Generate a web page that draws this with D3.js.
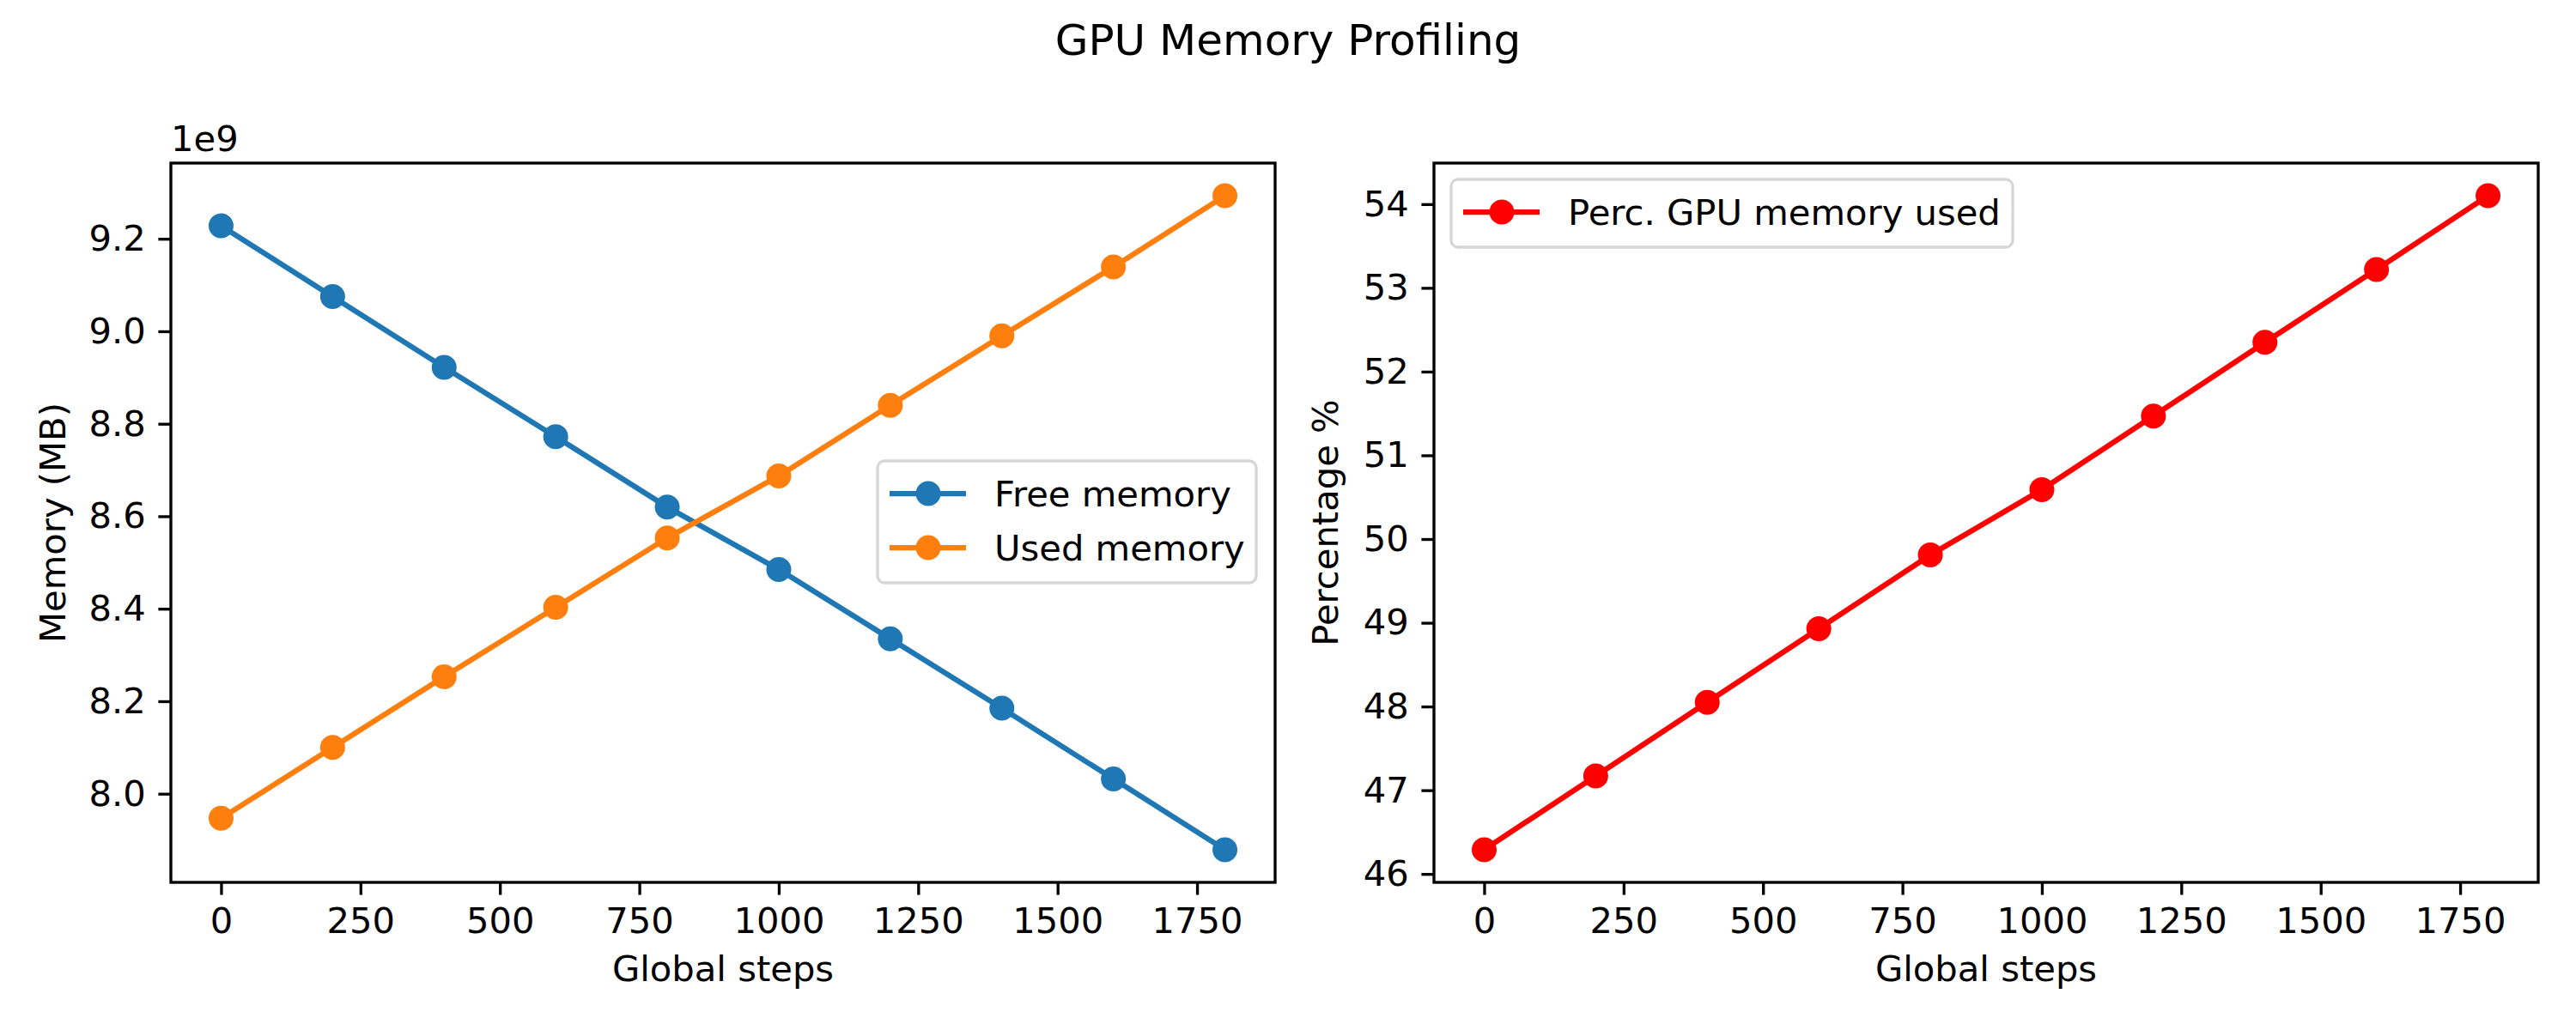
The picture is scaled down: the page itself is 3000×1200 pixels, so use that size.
<!DOCTYPE html>
<html>
<head>
<meta charset="utf-8">
<script src="https://cdn.jsdelivr.net/npm/d3@7"></script>
<style>
  body { margin: 0; background: #fff; }
  text { font-family: "DejaVu Sans", sans-serif; }
</style>
</head>
<body>
<script>
var steps = [ 0, 200, 400, 600, 800, 1000, 1200, 1400, 1600, 1800 ];
var freeMemory = [ 9.228e9, 9.075e9, 8.922e9, 8.772e9, 8.620e9, 8.485e9, 8.335e9, 8.185e9, 8.032e9, 7.879e9 ];
var usedMemory = [ 7.947e9, 8.100e9, 8.253e9, 8.403e9, 8.553e9, 8.687e9, 8.840e9, 8.990e9, 9.139e9, 9.293e9 ];
var percUsed = [ 46.29, 47.17, 48.05, 48.93, 49.81, 50.59, 51.47, 52.35, 53.22, 54.10 ];
var xTicks = [ 0, 250, 500, 750, 1000, 1250, 1500, 1750 ];
var memTicks = [ 8.0e9, 8.2e9, 8.4e9, 8.6e9, 8.8e9, 9.0e9, 9.2e9 ];
var pctTicks = [ 46, 47, 48, 49, 50, 51, 52, 53, 54 ];

var fontPx = 41.7;
var tick = 14.6;
var lw = 6.25;
var markR = 14.5;

var svg = d3.select( "body" ).append( "svg" )
  .attr( "width", 3000 )
  .attr( "height", 1200 );

svg.append( "rect" ).attr( "width", 3000 ).attr( "height", 1200 ).attr( "fill", "#fff" );

// suptitle
svg.append( "text" )
  .attr( "x", 1500 )
  .attr( "y", 64 )
  .attr( "text-anchor", "middle" )
  .attr( "font-size", 50 )
  .text( "GPU Memory Profiling" );

// pad the data range by 5% like matplotlib does
function padded( lo, hi ) {
  var r = hi - lo;
  return [ lo - 0.05 * r, hi + 0.05 * r ];
}

function drawPanel( opt ) {
  var g = svg.append( "g" );
  var x = d3.scaleLinear().domain( padded( 0, 1800 ) ).range( [ opt.x0, opt.x1 ] );
  var y = d3.scaleLinear().domain( padded( opt.lo, opt.hi ) ).range( [ opt.y1, opt.y0 ] );

  var xa = g.append( "g" )
    .attr( "transform", "translate(0," + opt.y1 + ")" )
    .call( d3.axisBottom( x ).tickValues( xTicks ).tickSize( tick ).tickPadding( tick ).tickFormat( d3.format( "d" ) ) );
  var ya = g.append( "g" )
    .attr( "transform", "translate(" + opt.x0 + ",0)" )
    .call( d3.axisLeft( y ).tickValues( opt.ticks ).tickSize( tick ).tickPadding( tick ).tickFormat( opt.fmt ) );
  [ xa, ya ].forEach( function ( a ) {
    a.select( ".domain" ).remove();
    a.selectAll( "line" ).attr( "stroke", "#000" ).attr( "stroke-width", 3.33 );
    a.selectAll( "text" ).attr( "font-size", fontPx ).attr( "fill", "#000" ).style( "font-family", "DejaVu Sans" );
  } );

  // series
  opt.series.forEach( function ( s ) {
    var line = d3.line()
      .x( function ( d, i ) { return x( steps[ i ] ); } )
      .y( function ( d ) { return y( d ); } );
    g.append( "path" )
      .datum( s.values )
      .attr( "d", line )
      .attr( "fill", "none" )
      .attr( "stroke", s.color )
      .attr( "stroke-width", lw )
      .attr( "stroke-linejoin", "round" );
    g.selectAll( null )
      .data( s.values )
      .enter().append( "circle" )
      .attr( "cx", function ( d, i ) { return x( steps[ i ] ); } )
      .attr( "cy", function ( d ) { return y( d ); } )
      .attr( "r", markR )
      .attr( "fill", s.color );
  } );

  // frame
  g.append( "rect" )
    .attr( "x", opt.x0 )
    .attr( "y", opt.y0 )
    .attr( "width", opt.x1 - opt.x0 )
    .attr( "height", opt.y1 - opt.y0 )
    .attr( "fill", "none" )
    .attr( "stroke", "#000" )
    .attr( "stroke-width", 3.33 );

  // axis labels
  g.append( "text" )
    .attr( "x", ( opt.x0 + opt.x1 ) / 2 )
    .attr( "y", 1143 )
    .attr( "text-anchor", "middle" )
    .attr( "font-size", fontPx )
    .text( "Global steps" );
  g.append( "text" )
    .attr( "transform", "translate(" + opt.labelX + "," + ( opt.y0 + opt.y1 ) / 2 + ") rotate(-90)" )
    .attr( "text-anchor", "middle" )
    .attr( "font-size", fontPx )
    .text( opt.ylabel );

  // legend
  var lg = g.append( "g" ).attr( "transform", "translate(" + opt.legend.x + "," + opt.legend.y + ")" );
  var rowH = 63;
  lg.append( "rect" )
    .attr( "x", 0 )
    .attr( "y", 0 )
    .attr( "width", opt.legend.w )
    .attr( "height", 16 + rowH * opt.series.length )
    .attr( "rx", 8 )
    .attr( "fill", "#fff" )
    .attr( "fill-opacity", 0.8 )
    .attr( "stroke", "#d6d6d6" )
    .attr( "stroke-width", 3.33 );
  var row = lg.selectAll( "g.row" )
    .data( opt.series )
    .enter().append( "g" )
    .attr( "class", "row" )
    .attr( "transform", function ( d, i ) { return "translate(0," + ( 38 + i * rowH ) + ")"; } );
  row.append( "line" )
    .attr( "x1", 14 )
    .attr( "x2", 103 )
    .attr( "stroke", function ( d ) { return d.color; } )
    .attr( "stroke-width", lw );
  row.append( "circle" )
    .attr( "cx", 59 )
    .attr( "r", markR )
    .attr( "fill", function ( d ) { return d.color; } );
  row.append( "text" )
    .attr( "x", 136 )
    .attr( "y", 15 )
    .attr( "font-size", fontPx )
    .text( function ( d ) { return d.name; } );

  return g;
}

var left = drawPanel( {
  x0: 199, x1: 1485, y0: 190, y1: 1028,
  lo: 7.879e9, hi: 9.293e9,
  ticks: memTicks,
  fmt: function ( d ) { return ( d / 1e9 ).toFixed( 1 ); },
  ylabel: "Memory (MB)",
  labelX: 76,
  legend: { x: 1022, y: 537, w: 441 },
  series: [
    { name: "Free memory", color: "#1f77b4", values: freeMemory },
    { name: "Used memory", color: "#ff7f0e", values: usedMemory }
  ]
} );

// offset text for the scientific notation
left.append( "text" )
  .attr( "x", 199 )
  .attr( "y", 176 )
  .attr( "font-size", fontPx )
  .text( "1e9" );

drawPanel( {
  x0: 1670, x1: 2956, y0: 190, y1: 1028,
  lo: 46.29, hi: 54.10,
  ticks: pctTicks,
  fmt: d3.format( "d" ),
  ylabel: "Percentage %",
  labelX: 1558,
  legend: { x: 1690, y: 209, w: 654 },
  series: [
    { name: "Perc. GPU memory used", color: "#ff0000", values: percUsed }
  ]
} );
</script>
</body>
</html>
